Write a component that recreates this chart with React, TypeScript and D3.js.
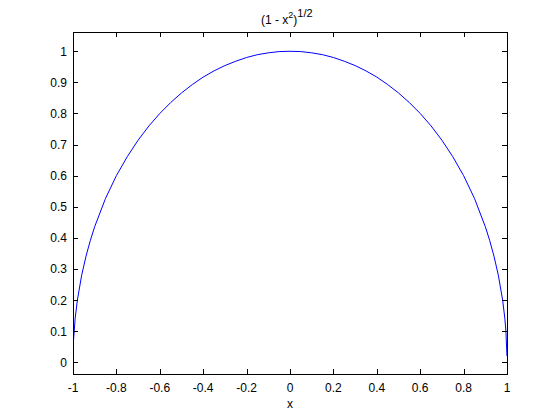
import { useEffect, useRef } from "react";
import * as d3 from "d3";

// Points
const X_VALUES = [
  -0.9975, -0.99, -0.98, -0.96, -0.94, -0.92, -0.9, -0.85, -0.8, -0.75, -0.7, -0.65, -0.6, -0.55,
  -0.5, -0.45, -0.4, -0.35, -0.3, -0.25, -0.2, -0.15, -0.1, -0.05, 0, 0.05, 0.1, 0.15, 0.2, 0.25,
  0.3, 0.35, 0.4, 0.45, 0.5, 0.55, 0.6, 0.65, 0.7, 0.75, 0.8, 0.85, 0.9, 0.92, 0.94, 0.96, 0.98,
  0.99, 0.995, 0.9998,
];
const Y_VALUES = [
  0.071, 0.141, 0.199, 0.28, 0.341, 0.392, 0.436, 0.527, 0.6, 0.661, 0.714, 0.76, 0.8, 0.835,
  0.866, 0.893, 0.917, 0.937, 0.954, 0.968, 0.98, 0.989, 0.995, 0.999, 1, 0.999, 0.995, 0.989,
  0.98, 0.968, 0.954, 0.937, 0.917, 0.893, 0.866, 0.835, 0.8, 0.76, 0.714, 0.661, 0.6, 0.527,
  0.436, 0.392, 0.341, 0.28, 0.199, 0.141, 0.1, 0.02,
];
const X_TICKS = [-1, -0.8, -0.6, -0.4, -0.2, 0, 0.2, 0.4, 0.6, 0.8, 1];
const Y_TICKS = [0, 0.1, 0.2, 0.3, 0.4, 0.5, 0.6, 0.7, 0.8, 0.9, 1];

const WIDTH = 560;
const HEIGHT = 420;
const LEFT = 73;
const RIGHT = 507;
const TOP = 32;
const BOTTOM = 374;
const TICK = 5;
const FONT = "'Liberation Sans', Arial, sans-serif";
const FONT_SIZE = 12;

export default function App() {
  const svgRef = useRef<SVGSVGElement>(null);

  useEffect(() => {
    if (!svgRef.current) return;
    const svg = d3.select(svgRef.current);
    svg.selectAll("*").remove();

    const x = d3.scaleLinear().domain([-1, 1]).range([LEFT, RIGHT]);
    const y = d3.scaleLinear().domain([-0.038, 1.062]).range([BOTTOM, TOP]);

    svg.append("rect").attr("width", WIDTH).attr("height", HEIGHT).attr("fill", "#fff");

    // curve
    const pts: [number, number][] = X_VALUES.map((v, i) => [v, Y_VALUES[i]]);
    const line = d3
      .line<[number, number]>()
      .x((d) => x(d[0]))
      .y((d) => y(d[1]));
    svg
      .append("path")
      .attr("d", line(pts)!)
      .attr("fill", "none")
      .attr("stroke", "#0000ff")
      .attr("stroke-width", 1);

    // box
    svg
      .append("rect")
      .attr("x", LEFT + 0.5)
      .attr("y", TOP + 0.5)
      .attr("width", RIGHT - LEFT)
      .attr("height", BOTTOM - TOP)
      .attr("fill", "none")
      .attr("stroke", "#000")
      .attr("stroke-width", 1);

    const g = svg.append("g").attr("stroke", "#000").attr("stroke-width", 1);
    X_TICKS.forEach((t) => {
      const px = Math.round(x(t)) + 0.5;
      g.append("line").attr("x1", px).attr("x2", px).attr("y1", BOTTOM).attr("y2", BOTTOM - TICK);
      g.append("line").attr("x1", px).attr("x2", px).attr("y1", TOP).attr("y2", TOP + TICK);
      svg
        .append("text")
        .attr("x", x(t))
        .attr("y", BOTTOM + 18)
        .attr("text-anchor", "middle")
        .attr("font-family", FONT)
        .attr("font-size", FONT_SIZE)
        .text(String(t));
    });
    Y_TICKS.forEach((t) => {
      const py = Math.round(y(t)) + 0.5;
      g.append("line").attr("x1", LEFT).attr("x2", LEFT + TICK).attr("y1", py).attr("y2", py);
      g.append("line").attr("x1", RIGHT).attr("x2", RIGHT - TICK).attr("y1", py).attr("y2", py);
      svg
        .append("text")
        .attr("x", LEFT - 6)
        .attr("y", y(t) + 4.5)
        .attr("text-anchor", "end")
        .attr("font-family", FONT)
        .attr("font-size", FONT_SIZE)
        .text(String(t));
    });

    // x label
    svg
      .append("text")
      .attr("x", (LEFT + RIGHT) / 2)
      .attr("y", 408)
      .attr("text-anchor", "middle")
      .attr("font-family", FONT)
      .attr("font-size", FONT_SIZE)
      .text("x");

    // title
    const title = svg
      .append("text")
      .attr("x", 261)
      .attr("y", 24)
      .attr("text-anchor", "start")
      .attr("font-family", FONT)
      .attr("font-size", FONT_SIZE);
    title.append("tspan").text("(1 - x");
    title.append("tspan").attr("dy", -6).attr("font-size", 9).text("2");
    title.append("tspan").attr("dy", 6).text(")");
    title.append("tspan").attr("dy", -7).attr("font-size", 11).text("1/2");
  }, []);

  return (
    <svg
      ref={svgRef}
      width={WIDTH}
      height={HEIGHT}
      style={{ position: "absolute", left: 0, top: 0, display: "block" }}
    />
  );
}
